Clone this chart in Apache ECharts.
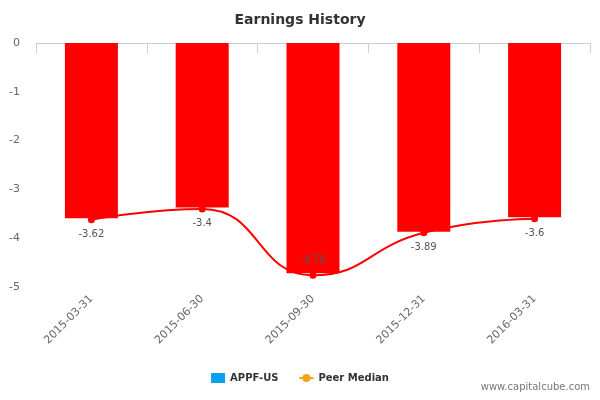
<!DOCTYPE html>
<html>
<head>
<meta charset="utf-8">
<script src="https://cdn.jsdelivr.net/npm/echarts@6/dist/echarts.min.js"></script>
<style>html,body{margin:0;padding:0;background:#fff}#chart{width:600px;height:400px}</style>
</head>
<body>
<div id="chart"></div>
<script>
var categories = ['2015-03-31', '2015-06-30', '2015-09-30', '2015-12-31', '2016-03-31'];
var barValues = [-3.59, -3.37, -4.72, -3.87, -3.57];
var lineValues = [-3.62, -3.4, -4.76, -3.89, -3.6];
var labelPos = ['bottom', 'bottom', 'top', 'bottom', 'bottom'];

var chart = echarts.init(document.getElementById('chart'));
var lineData = lineValues.map(function(v, i) {
  return { value: v, label: { position: labelPos[i] } };
});
chart.setOption({
  animation: false,
  title: {
    text: 'Earnings History', left: 'center', top: 8,
    textStyle: { fontFamily: 'DejaVu Sans', fontSize: 14, fontWeight: 'bold', color: '#333' }
  },
  legend: {
    bottom: 12, left: 'center', itemWidth: 14, itemHeight: 10, itemGap: 20,
    textStyle: { fontFamily: 'DejaVu Sans', fontSize: 10, fontWeight: 'bold', color: '#333' },
    data: [
      { name: 'APPF-US', icon: 'rect', itemStyle: { color: '#0aa0f0' } },
      { name: 'Peer Median', itemStyle: { color: '#f7a21b' }, lineStyle: { color: '#f7a21b' } }
    ]
  },
  graphic: [{
    type: 'text', right: 10, bottom: 8,
    style: { text: 'www.capitalcube.com', fill: '#777', font: '10px DejaVu Sans' }
  }],
  grid: { left: 36, right: 10, top: 43, bottom: 113 },
  xAxis: {
    type: 'category', data: categories,
    axisLine: { lineStyle: { color: '#c0d0e0' } },
    axisTick: { show: true, alignWithLabel: false, length: 10, lineStyle: { color: '#c0d0e0' } },
    axisLabel: { rotate: 45, color: '#666', fontFamily: 'DejaVu Sans', fontSize: 11, margin: 10 }
  },
  yAxis: {
    type: 'value', min: -5, max: 0, interval: 1,
    splitLine: { show: false },
    axisLine: { show: false }, axisTick: { show: false },
    axisLabel: { color: '#666', fontFamily: 'DejaVu Sans', fontSize: 11, margin: 16 }
  },
  series: [{
    name: 'APPF-US', type: 'bar', data: barValues, barWidth: 53,
    itemStyle: { color: '#ff0000' }
  }, {
    name: 'Peer Median', type: 'line', data: lineData, smooth: 0.5,
    symbol: 'circle', symbolSize: 7,
    itemStyle: { color: '#ff0000' }, lineStyle: { color: '#ff0000', width: 2 },
    label: { show: true, color: '#555', fontFamily: 'DejaVu Sans', fontSize: 10, distance: 6 }
  }]
});
</script>
</body>
</html>
